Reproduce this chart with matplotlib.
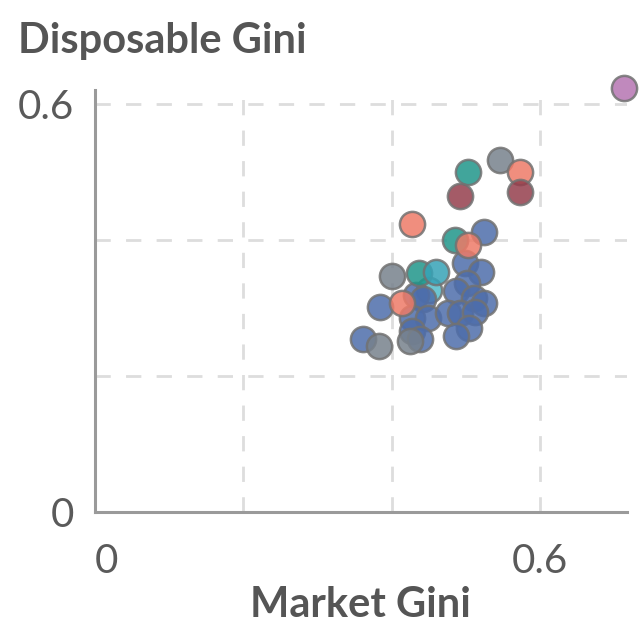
import matplotlib
matplotlib.use('Agg')
import matplotlib.pyplot as plt

plt.rcParams['font.family'] = ['Lato', 'DejaVu Sans']

# market gini (x) vs disposable gini (y), grouped by colour
blue_x = [0.362, 0.385, 0.525, 0.433, 0.442, 0.428, 0.449, 0.428, 0.438, 0.499,
          0.521, 0.502, 0.487, 0.511, 0.525, 0.476, 0.492, 0.512, 0.504, 0.487]
blue_y = [0.254, 0.302, 0.412, 0.319, 0.313, 0.285, 0.285, 0.266, 0.254, 0.366,
          0.353, 0.336, 0.325, 0.314, 0.307, 0.292, 0.292, 0.294, 0.270, 0.258]
gray_x = [0.546, 0.400, 0.383, 0.425]
gray_y = [0.518, 0.347, 0.244, 0.251]
salmon_x = [0.573, 0.427, 0.503, 0.414]
salmon_y = [0.500, 0.424, 0.393, 0.307]
darkred_x = [0.492, 0.573]
darkred_y = [0.464, 0.470]
teal_x = [0.503, 0.486, 0.437]
teal_y = [0.500, 0.400, 0.352]
cyan_x = [0.460]
cyan_y = [0.353]
lightcyan_x = [0.450]
lightcyan_y = [0.327]
purple_x = [0.713]
purple_y = [0.624]

groups = [
    (lightcyan_x, lightcyan_y, '#52bccb'),
    (blue_x, blue_y, '#4d6dab'),
    (gray_x, gray_y, '#77818c'),
    (teal_x, teal_y, '#1f968a'),
    (cyan_x, cyan_y, '#36a3b7'),
    (salmon_x, salmon_y, '#ee7a67'),
    (darkred_x, darkred_y, '#943e4c'),
    (purple_x, purple_y, '#b574b2'),
]

fig = plt.figure(figsize=(6.4, 6.4), dpi=100)
ax = fig.add_axes([0.1477, 0.2, 0.832, 0.659])
ax.set_xlim(0, 0.717)
ax.set_ylim(0, 0.62)

for v in [0.2, 0.4, 0.6]:
    ax.axhline(v, color='#dddddd', lw=2, dashes=(5.5, 5.5), zorder=1)
    ax.axvline(v, color='#dddddd', lw=2, dashes=(5.5, 5.5), zorder=1)

for gx, gy, c in groups:
    ax.scatter(gx, gy, s=330, color=c, alpha=0.85, edgecolors='#727272',
               linewidths=1.8, zorder=3, clip_on=False)

for s in ['top', 'right']:
    ax.spines[s].set_visible(False)
for s in ['left', 'bottom']:
    ax.spines[s].set_color('#9a9a9a')
    ax.spines[s].set_linewidth(2.2)
    ax.spines[s].set_zorder(2)

ax.set_xticks([0, 0.6])
ax.set_xticklabels(['0', '0.6'])
ax.set_yticks([0, 0.6])
ax.set_yticklabels(['0', '0.6'])
ax.tick_params(length=0, labelsize=29, labelcolor='#5a5a5a')
ax.tick_params(axis='x', pad=22)
ax.tick_params(axis='y', pad=15)
ax.get_xticklabels()[0].set_ha('left')

fig.text(0.028, 0.936, 'Disposable Gini', fontsize=30, fontweight='bold',
         color='#555555', ha='left', va='center')
fig.text(0.5637, 0.055, 'Market Gini', fontsize=30, fontweight='bold',
         color='#555555', ha='center', va='center')

fig.savefig('out.png', dpi=100)
